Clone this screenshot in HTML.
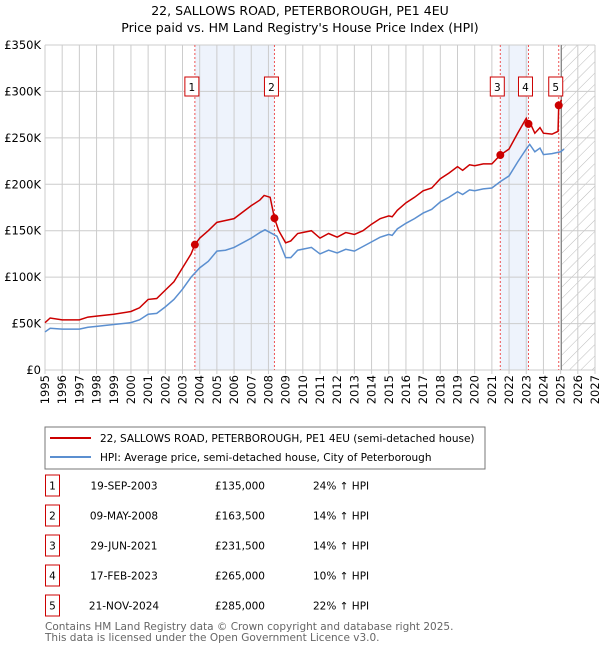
<!DOCTYPE html>
<html><head><meta charset="utf-8"><style>
body{margin:0;background:#fff;font-family:"Liberation Sans","DejaVu Sans",sans-serif;}
svg text{font-family:"DejaVu Sans","Liberation Sans",sans-serif;}
</style></head><body>
<svg id="c" width="600" height="650" xmlns="http://www.w3.org/2000/svg">
<defs><pattern id="h" width="8" height="8" patternUnits="userSpaceOnUse" patternTransform="rotate(45)"><line x1="0" y1="0" x2="0" y2="8" stroke="#bbb" stroke-width="1"/></pattern></defs>
<text x="300" y="15" text-anchor="middle" font-size="12.5">22, SALLOWS ROAD, PETERBOROUGH, PE1 4EU</text>
<text x="300" y="32" text-anchor="middle" font-size="12.5">Price paid vs. HM Land Registry's House Price Index (HPI)</text>
<g id="plot"></g>
<rect x="45" y="427" width="440" height="42" fill="#fff" stroke="#777"/>
<line x1="50" y1="438" x2="91" y2="438" stroke="#cc0000" stroke-width="2"/>
<text x="100" y="442" font-size="10.5">22, SALLOWS ROAD, PETERBOROUGH, PE1 4EU (semi-detached house)</text>
<line x1="50" y1="457" x2="91" y2="457" stroke="#5b8fd0" stroke-width="2"/>
<text x="100" y="461" font-size="10.5">HPI: Average price, semi-detached house, City of Peterborough</text>
<g id="table" font-size="10.5"></g>
<text x="45" y="630" font-size="10.5" fill="#666">Contains HM Land Registry data © Crown copyright and database right 2025.</text>
<text x="45" y="641" font-size="10.5" fill="#666">This data is licensed under the Open Government Licence v3.0.</text>
</svg>
<script>
const hpiYears=[1995.0,1995.3,1996,1997,1997.5,1998,1999,2000,2000.5,2001,2001.5,2002,2002.5,2003,2003.5,2004,2004.5,2005,2005.5,2006,2006.5,2007,2007.5,2007.8,2008.3,2008.5,2009,2009.3,2009.7,2010.5,2011,2011.5,2012,2012.5,2013,2013.5,2014,2014.5,2015,2015.2,2015.5,2016,2016.5,2017,2017.5,2018,2018.5,2019,2019.3,2019.7,2020,2020.5,2021,2021.5,2022,2022.5,2023,2023.2,2023.5,2023.8,2024,2024.5,2025,2025.2];
const hpiValues=[41,45,44,44,46,47,49,51,54,60,61,68,76,87,100,110,117,128,129,132,137,142,148,151,146,144,121,121,129,132,125,129,126,130,128,133,138,143,146,145,152,158,163,169,173,181,186,192,189,194,193,195,196,203,209,224,238,243,235,239,232,233,235,238];
const propYears=[1995,1995.3,1996,1997,1997.5,1998,1999,2000,2000.5,2001,2001.5,2002,2002.5,2003,2003.5,2003.72,2004,2004.5,2005,2005.5,2006,2006.5,2007,2007.5,2007.75,2008.1,2008.35,2008.6,2009,2009.3,2009.7,2010.5,2011,2011.5,2012,2012.5,2013,2013.5,2014,2014.5,2015,2015.2,2015.5,2016,2016.5,2017,2017.5,2018,2018.5,2019,2019.3,2019.7,2020,2020.5,2021,2021.49,2022,2022.5,2023,2023.13,2023.3,2023.5,2023.8,2024,2024.5,2024.85,2024.89,2025.05];
const propValues=[51,56,54,54,57,58,60,63,67,76,77,86,95,110,125,135,142,150,159,161,163,170,177,183,188,186,163.5,150,137,139,147,150,142,147,143,148,146,150,157,163,166,165,172,180,186,193,196,206,212,219,215,221,220,222,222,231.5,238,255,271,265,263,255,261,255,254,257,285,291];
const saleLabels=["1","2","3","4","5"];
const saleYears=[2003.72,2008.35,2021.49,2023.13,2024.89];
const salePrices=[135,163.5,231.5,265,285];
const saleDates=["19-SEP-2003","09-MAY-2008","29-JUN-2021","17-FEB-2023","21-NOV-2024"];
const salePriceText=["£135,000","£163,500","£231,500","£265,000","£285,000"];
const saleDiff=["24% ↑ HPI","14% ↑ HPI","14% ↑ HPI","10% ↑ HPI","22% ↑ HPI"];
const yTicks=[0,50,100,150,200,250,300,350];
const yTickLabels=["£0","£50K","£100K","£150K","£200K","£250K","£300K","£350K"];
const xTicks=[1995,1996,1997,1998,1999,2000,2001,2002,2003,2004,2005,2006,2007,2008,2009,2010,2011,2012,2013,2014,2015,2016,2017,2018,2019,2020,2021,2022,2023,2024,2025,2026,2027];

const L=45,R=595,T=45,B=370,X0=1995,X1=2027,YMAX=350;
const x=v=>L+(v-X0)/(X1-X0)*(R-L);
const y=v=>B-v/YMAX*(B-T);
const NS="http://www.w3.org/2000/svg";
const g=document.getElementById('plot');
function mk(tag,at,parent){const e=document.createElementNS(NS,tag);for(const k in at)e.setAttribute(k,at[k]);(parent||g).appendChild(e);return e;}
let e;
e=mk('rect',{x:L,y:T,width:R-L,height:B-T,fill:'#fff'});


e=mk('rect',{x:x(saleYears[0]),y:T,width:x(saleYears[1])-x(saleYears[0]),height:B-T,fill:'#eef3fc'});


e=mk('rect',{x:x(saleYears[2]),y:T,width:x(saleYears[3])-x(saleYears[2]),height:B-T,fill:'#eef3fc'});


e=mk('rect',{x:x(2025),y:T,width:R-x(2025),height:B-T,fill:'url(#h)'});


yTicks.forEach((v,i)=>{
 e=mk('line',{x1:L,x2:R,y1:y(v),y2:y(v),stroke:'#ccc','stroke-width':1});
 
 
 e=mk('text',{x:L-4,y:y(v)+4,'text-anchor':'end','font-size':'11.5'});e.textContent=yTickLabels[i];
 
 
});
xTicks.forEach(v=>{
 e=mk('line',{x1:x(v),x2:x(v),y1:T,y2:B+4,stroke:'#ccc','stroke-width':1});
 
 
 e=mk('text',{x:x(v)+4,y:B+5,'text-anchor':'end','font-size':'11.5',transform:`rotate(-90 ${x(v)+4} ${B+5})`});e.textContent=v;
 
 
});
e=mk('line',{x1:x(2025.05),x2:x(2025.05),y1:T,y2:B,stroke:'#888','stroke-width':1});


saleYears.forEach((v,i)=>{
 e=mk('line',{x1:x(v),x2:x(v),y1:T,y2:B,stroke:'#e55','stroke-width':1,'stroke-dasharray':'2,2'});
 
 
});
e=mk('polyline',{points:hpiYears.map((v,i)=>x(v)+','+y(hpiValues[i])).join(' '),fill:'none',stroke:'#5b8fd0','stroke-width':1.5});


e=mk('polyline',{points:propYears.map((v,i)=>x(v)+','+y(propValues[i])).join(' '),fill:'none',stroke:'#cc0000','stroke-width':1.5});


saleYears.forEach((v,i)=>{
 e=mk('circle',{cx:x(v),cy:y(salePrices[i]),r:4,fill:'#cc0000'});
 
 
 const cx=x(v)-3;
 e=mk('rect',{x:cx-7,y:77,width:14,height:19,fill:'#fff',stroke:'#cc0000'});
 
 
 e=mk('text',{x:cx,y:91,'text-anchor':'middle','font-size':'10.5'});e.textContent=saleLabels[i];
 
 
});
const tb=document.getElementById('table');
saleLabels.forEach((s,i)=>{
 const ry=485.5+i*30;
 e=mk('rect',{x:45.5,y:ry-10.5,width:14,height:21,fill:'#fff',stroke:'#cc0000'},tb);
 
 
 e=mk('text',{x:52.5,y:ry+4,'text-anchor':'middle'},tb);e.textContent=s;
 
 
 e=mk('text',{x:124,y:ry+4,'text-anchor':'middle'},tb);e.textContent=saleDates[i];
 
 
 e=mk('text',{x:265,y:ry+4,'text-anchor':'end'},tb);e.textContent=salePriceText[i];
 
 
 e=mk('text',{x:313,y:ry+4},tb);e.textContent=saleDiff[i];
 
 
});
</script>
</body></html>
